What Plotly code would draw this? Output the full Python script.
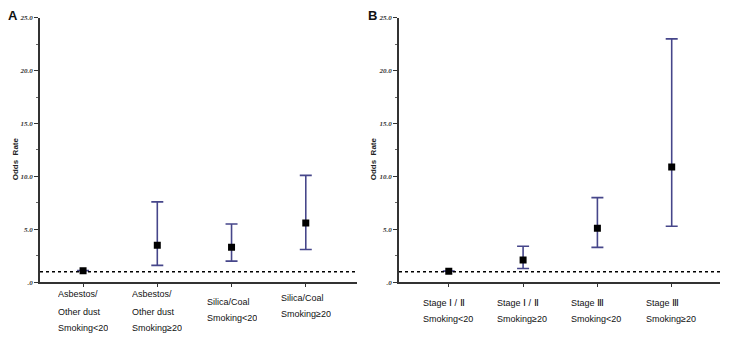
import plotly.graph_objects as go

# Panel A data
a_labels = [["Asbestos/", "Other dust", "Smoking<20"], ["Asbestos/", "Other dust", "Smoking≥20"],
            ["Silica/Coal", "Smoking<20"], ["Silica/Coal", "Smoking≥20"]]
a_or = [1.1, 3.5, 3.3, 5.6]
a_lo = [1.1, 1.6, 2.0, 3.1]
a_hi = [1.1, 7.6, 5.5, 10.1]

# Panel B data
b_labels = [["Stage Ⅰ / Ⅱ", "Smoking<20"], ["Stage Ⅰ / Ⅱ", "Smoking≥20"],
            ["Stage Ⅲ", "Smoking<20"], ["Stage Ⅲ", "Smoking≥20"]]
b_or = [1.05, 2.1, 5.1, 10.9]
b_lo = [1.05, 1.3, 3.3, 5.3]
b_hi = [1.05, 3.4, 8.0, 23.0]

ref_line = 1.0
y_ticks = [0, 5, 10, 15, 20, 25]
y_ticktext = [".0", "5.0", "10.0", "15.0", "20.0", "25.0"]

W, H = 732, 339
err_color = "#46468a"
label_font = dict(family="Liberation Sans, sans-serif", size=9, color="#111")

def py(p):
    return (H - p) / H

def serif_numerals(s):
    for ch in "ⅠⅡⅢ":
        s = s.replace(ch, '<span style="font-family:Liberation Serif;font-size:10px">%s</span>' % ch)
    return s

fig = go.Figure()

def add_panel(labels, orv, lo, hi, xa, ya, line_tops, box_w):
    xs = list(range(len(orv)))
    fig.add_trace(go.Scatter(
        x=xs, y=orv, mode="markers", xaxis=xa, yaxis=ya,
        marker=dict(symbol="square", size=7, color="black"),
        error_y=dict(type="data", symmetric=False,
                     array=[h - o for h, o in zip(hi, orv)],
                     arrayminus=[o - l for o, l in zip(orv, lo)],
                     color=err_color, thickness=1.6, width=6),
        showlegend=False, hoverinfo="skip"))
    xref = "x" if xa == "x" else "x2"
    for i, lines in enumerate(labels):
        for j, line in enumerate(lines):
            fig.add_annotation(x=i, xref=xref, y=py(line_tops[i][j]), yref="paper",
                               text=serif_numerals(line), showarrow=False,
                               xanchor="center", yanchor="middle",
                               align="left", width=box_w[i], font=label_font)
    fig.add_shape(type="line", xref=xref + " domain", yref="y" if ya == "y" else "y2",
                  x0=0, x1=1, y0=ref_line, y1=ref_line,
                  line=dict(color="black", width=1.5, dash="dot"))

a_rows = [[297, 315, 332], [297, 315, 332], [305, 322], [301, 318]]
b_rows = [[306, 323], [306, 323], [306, 323], [306, 323]]
add_panel(a_labels, a_or, a_lo, a_hi, "x", "y", a_rows, [50, 50, 50, 50])
add_panel(b_labels, b_or, b_lo, b_hi, "x2", "y2", b_rows, [52, 52, 52, 52])

ydom = [py(285), py(14)]
axis_common = dict(showgrid=False, zeroline=False, showline=True, linecolor="#333", linewidth=1.5)
yaxis_common = dict(axis_common, range=[0, 25], tickvals=y_ticks, ticktext=y_ticktext,
                    ticks="outside", ticklen=4, tickcolor="#333", tickwidth=1.2,
                    minor=dict(dtick=2.5, ticks="outside", ticklen=2, tickcolor="#666"),
                    tickfont=dict(family="Liberation Serif", size=7, color="#333",
                                  weight="bold", style="italic"), domain=ydom)
xaxis_common = dict(axis_common, tickvals=[0, 1, 2, 3], ticktext=["", "", "", ""],
                    ticks="outside", ticklen=3, tickcolor="#333")

fig.update_layout(
    width=W, height=H, margin=dict(l=0, r=0, t=0, b=0),
    paper_bgcolor="white", plot_bgcolor="white",
    xaxis=dict(xaxis_common, domain=[40 / W, 357 / W], range=[-0.58, 3.69], anchor="y"),
    yaxis=dict(yaxis_common, anchor="x"),
    xaxis2=dict(xaxis_common, domain=[399 / W, 720 / W], range=[-0.67, 3.65], anchor="y2"),
    yaxis2=dict(yaxis_common, anchor="x2"),
)

for txt, px in [("A", 13), ("B", 372)]:
    fig.add_annotation(x=px / W, y=py(12), xref="paper", yref="paper", text="<b>%s</b>" % txt,
                       showarrow=False, xanchor="center", yanchor="middle",
                       font=dict(family="Liberation Sans", size=13, color="#111"))
for px in [15, 373]:
    fig.add_annotation(x=px / W, y=py(158), xref="paper", yref="paper",
                       text="<b>Odds  Rate</b>", textangle=-90, showarrow=False,
                       xanchor="center", yanchor="middle",
                       font=dict(family="Liberation Sans", size=8, color="#222"))

fig.write_html("out.html", config={"displayModeBar": False},
               post_script="document.body.style.margin='0';")
